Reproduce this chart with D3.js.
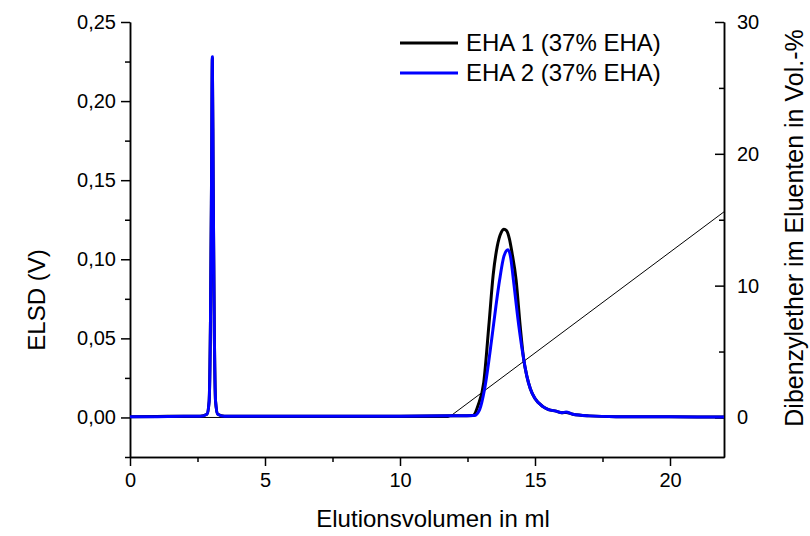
<!DOCTYPE html>
<html><head><meta charset="utf-8">
<script src="https://cdn.jsdelivr.net/npm/d3@7"></script>
<style>body{margin:0;background:#fff}svg{display:block}text{font-family:"Liberation Sans",Arial,sans-serif;fill:#000}</style>
</head><body><svg id="c" width="810" height="536"></svg>
<script>
// EHA 1 (black) : elution volume (ml) and ELSD signal (V)
const eha1X = [0,1,2,2.6,2.85,2.93,2.98,3.02,3.05,3.08,3.12,3.17,3.25,3.5,6,10,12,12.7,12.9,13.1,13.3,13.45,13.6,13.75,13.85,13.95,14.05,14.15,14.3,14.45,14.58,14.7,14.83,15.0,15.28,15.5,15.78,16.0,16.15,16.4,17.0,18,20,22];
const eha1Y = [0.0005,0.0006,0.0008,0.0008,0.002,0.01,0.06,0.15,0.227,0.15,0.06,0.01,0.002,0.0008,0.0008,0.0008,0.001,0.0012,0.008,0.022,0.06,0.09,0.108,0.117,0.119,0.118,0.113,0.104,0.087,0.058,0.037,0.026,0.018,0.012,0.007,0.005,0.004,0.003,0.0032,0.002,0.001,0.0005,0.0004,0.0003];
// EHA 2 (blue)
const eha2X = [0,1,2,2.6,2.85,2.93,2.98,3.02,3.05,3.08,3.12,3.17,3.25,3.5,6,10,12,12.75,12.95,13.13,13.4,13.55,13.69,13.85,14.0,14.1,14.2,14.4,14.58,14.7,14.83,15.0,15.28,15.5,15.78,16.0,16.15,16.4,17.0,18,20,22];
const eha2Y = [0.0004,0.0005,0.0007,0.0007,0.002,0.01,0.06,0.15,0.228,0.15,0.06,0.01,0.002,0.0007,0.0007,0.0008,0.001,0.0012,0.005,0.0177,0.05,0.07,0.087,0.102,0.106,0.101,0.087,0.058,0.037,0.026,0.018,0.012,0.007,0.005,0.004,0.003,0.0034,0.002,0.001,0.0005,0.0004,0.0003];
// Gradient: Dibenzylether in eluent (Vol.-%)
const gradX = [0,11.8,22];
const gradY = [0,0,15.6];
const xTicks = [0,5,10,15,20];
const yTicks = [0,0.05,0.10,0.15,0.20,0.25];
const y2Ticks = [0,10,20,30];
const seriesNames = ["EHA 1 (37% EHA)","EHA 2 (37% EHA)"];
const seriesColors = ["#000000","#0000ff"];

const L=130,R=724,T=22,B=457;
const FT="20px", FL="24px";
const svg=d3.select("#c");
const x=d3.scaleLinear().domain([0,22]).range([L,R]);
const y=d3.scaleLinear().domain([-0.025,0.25]).range([B,T]);
const y2=d3.scaleLinear().domain([-3,30]).range([B,T]);
const fmt=d3.format(".2f");
const comma=v=>fmt(v).replace(".",",");

function styleAxis(g){g.selectAll("path.domain").attr("stroke","#000").attr("stroke-width",1.5);
  g.selectAll(".tick line").attr("stroke","#000").attr("stroke-width",1.5);
  g.selectAll("text").style("font-size",FT).style("font-family","'Liberation Sans',Arial,sans-serif");}

// minor ticks
svg.append("g").attr("transform",`translate(0,${B})`).call(d3.axisBottom(x).tickValues([2.5,7.5,12.5,17.5]).tickSize(5).tickFormat("").tickSizeOuter(0)).call(styleAxis);
svg.append("g").attr("transform",`translate(${L},0)`).call(d3.axisLeft(y).tickValues([-0.025,0.025,0.075,0.125,0.175,0.225]).tickSize(5).tickFormat("").tickSizeOuter(0)).call(styleAxis);
svg.append("g").attr("transform",`translate(${R},0)`).call(d3.axisLeft(y2).tickValues([5,15,25]).tickSize(5).tickFormat("").tickSizeOuter(0)).call(styleAxis);

const gx=svg.append("g").attr("transform",`translate(0,${B})`).call(d3.axisBottom(x).tickValues(xTicks).tickSize(9).tickPadding(7).tickSizeOuter(0)).call(styleAxis);
const gy=svg.append("g").attr("transform",`translate(${L},0)`).call(d3.axisLeft(y).tickValues(yTicks).tickSize(9).tickPadding(5).tickFormat(comma).tickSizeOuter(0)).call(styleAxis);
const gy2=svg.append("g").attr("transform",`translate(${R},0)`).call(d3.axisRight(y2).tickValues(y2Ticks).tickSize(0).tickPadding(13).tickSizeOuter(0)).call(styleAxis);
// inward major ticks for right axis
gy2.selectAll(".tick").append("line").attr("x1",0).attr("x2",-9).attr("stroke","#000").attr("stroke-width",1.5);

svg.append("text").attr("transform",`translate(45,300) rotate(-90)`).attr("text-anchor","middle").style("font-size","24px").text("ELSD (V)");
svg.append("text").attr("x",433).attr("y",527).attr("text-anchor","middle").style("font-size","24px").text("Elutionsvolumen in ml");
svg.append("text").attr("transform",`translate(803,228) rotate(-90)`).attr("text-anchor","middle").style("font-size","25px").text("Dibenzylether im Eluenten in Vol.-%");

svg.append("clipPath").attr("id","cp").append("rect").attr("x",L).attr("y",T-10).attr("width",R-L).attr("height",B-T+10);
const plot=svg.append("g").attr("clip-path","url(#cp)");
plot.append("path").datum(d3.zip(gradX,gradY)).attr("fill","none").attr("stroke","#000").attr("stroke-width",1)
  .attr("d",d3.line().x(d=>x(d[0])).y(d=>y2(d[1])));
plot.append("path").datum(d3.zip(eha1X,eha1Y)).attr("fill","none").attr("stroke",seriesColors[0]).attr("stroke-width",3).attr("stroke-linejoin","round")
  .attr("d",d3.line().x(d=>x(d[0])).y(d=>y(d[1])).curve(d3.curveMonotoneX));
plot.append("path").datum(d3.zip(eha2X,eha2Y)).attr("fill","none").attr("stroke",seriesColors[1]).attr("stroke-width",3).attr("stroke-linejoin","round")
  .attr("d",d3.line().x(d=>x(d[0])).y(d=>y(d[1])).curve(d3.curveMonotoneX));

const lg=svg.append("g");
seriesNames.forEach((n,i)=>{
  const yy=43+i*30;
  lg.append("line").attr("x1",400).attr("x2",458).attr("y1",yy).attr("y2",yy).attr("stroke",seriesColors[i]).attr("stroke-width",3);
  lg.append("text").attr("x",466).attr("y",yy+8).style("font-size",FL).text(n);
});
</script></body></html>
